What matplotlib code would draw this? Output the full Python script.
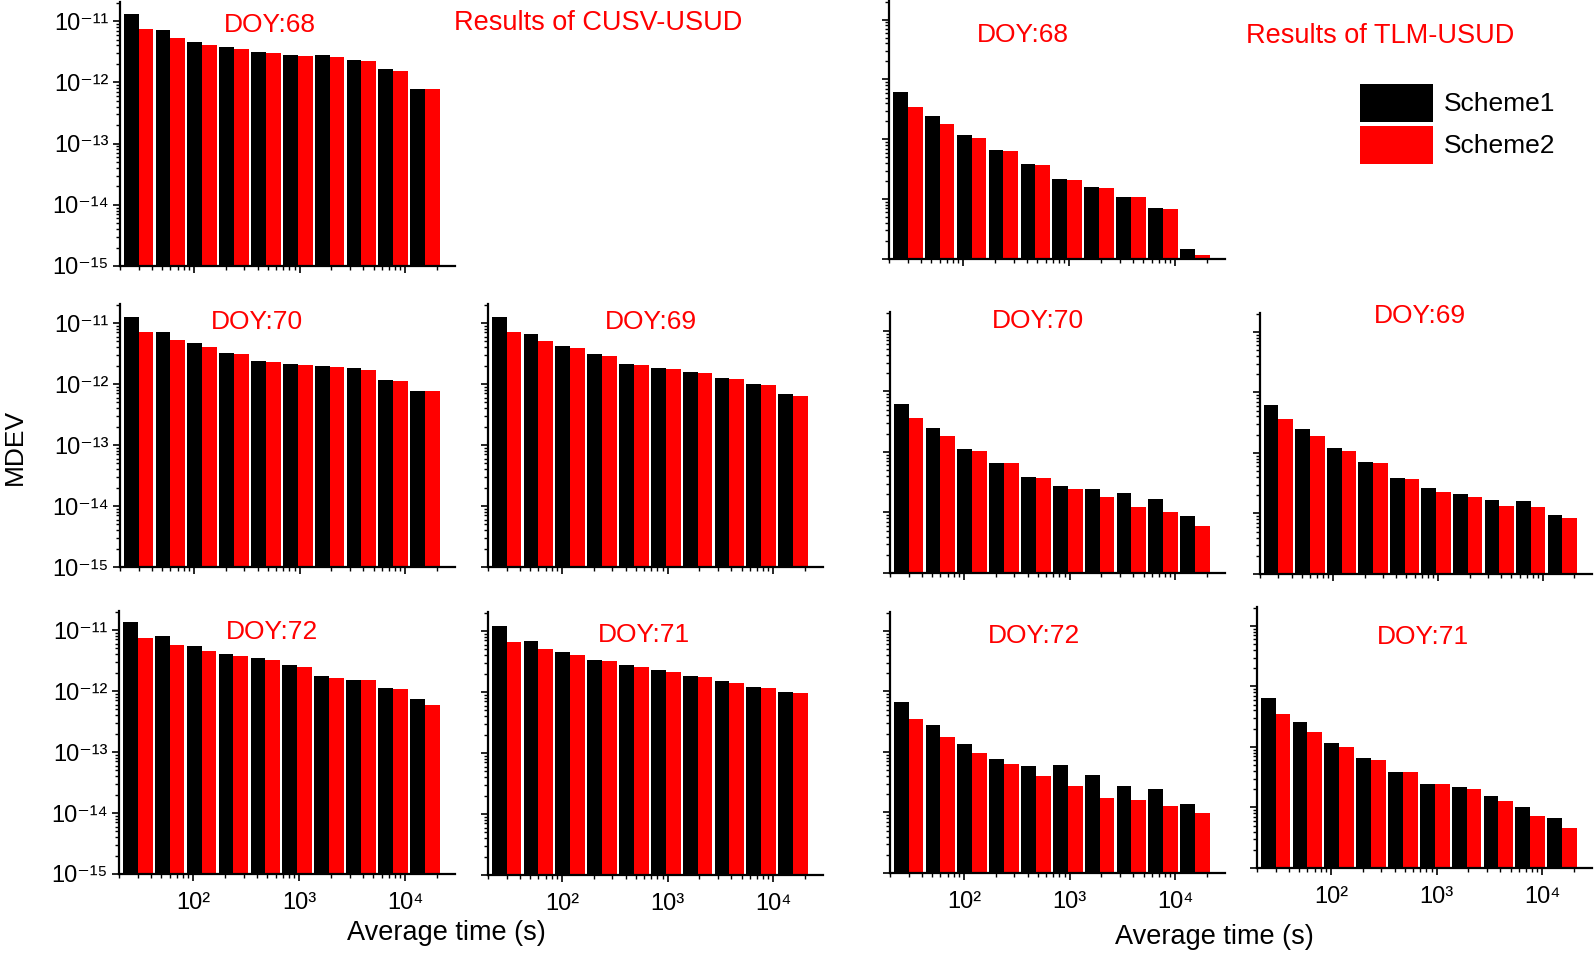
import numpy as np
import matplotlib
matplotlib.use('Agg')
import matplotlib.pyplot as plt
from matplotlib.patches import Rectangle
from matplotlib.ticker import LogLocator, NullFormatter, FuncFormatter

plt.rcParams['font.family'] = ['Liberation Sans', 'DejaVu Sans']
plt.rcParams['xtick.labelsize'] = 17
plt.rcParams['ytick.labelsize'] = 17

W, H = 1594, 957

# average time (s)
taus = [30, 60, 120, 240, 480, 960, 1920, 3840, 7680, 15360]

# MDEV, CUSV-USUD
cusv_68_s1 = [1.29e-11, 7.1e-12, 4.58e-12, 3.75e-12, 3.14e-12, 2.84e-12, 2.77e-12, 2.35e-12, 1.68e-12, 7.8e-13]
cusv_68_s2 = [7.49e-12, 5.33e-12, 4.09e-12, 3.52e-12, 3.03e-12, 2.74e-12, 2.60e-12, 2.24e-12, 1.55e-12, 7.7e-13]
cusv_70_s1 = [1.24e-11, 7.1e-12, 4.64e-12, 3.26e-12, 2.41e-12, 2.10e-12, 2.0e-12, 1.81e-12, 1.16e-12, 7.7e-13]
cusv_70_s2 = [7.1e-12, 5.33e-12, 4.09e-12, 3.06e-12, 2.32e-12, 2.05e-12, 1.92e-12, 1.72e-12, 1.13e-12, 7.7e-13]
cusv_69_s1 = [1.24e-11, 6.6e-12, 4.2e-12, 3.06e-12, 2.15e-12, 1.83e-12, 1.59e-12, 1.25e-12, 1.01e-12, 6.85e-13]
cusv_69_s2 = [7.1e-12, 5.07e-12, 3.85e-12, 2.88e-12, 2.07e-12, 1.74e-12, 1.51e-12, 1.21e-12, 9.75e-13, 6.44e-13]
cusv_72_s1 = [1.37e-11, 7.9e-12, 5.4e-12, 4.1e-12, 3.53e-12, 2.71e-12, 1.75e-12, 1.52e-12, 1.14e-12, 7.35e-13]
cusv_72_s2 = [7.4e-12, 5.6e-12, 4.54e-12, 3.76e-12, 3.27e-12, 2.48e-12, 1.64e-12, 1.49e-12, 1.08e-12, 5.94e-13]
cusv_71_s1 = [1.21e-11, 6.95e-12, 4.54e-12, 3.40e-12, 2.75e-12, 2.28e-12, 1.84e-12, 1.51e-12, 1.22e-12, 9.85e-13]
cusv_71_s2 = [6.6e-12, 5.02e-12, 4.01e-12, 3.24e-12, 2.58e-12, 2.11e-12, 1.75e-12, 1.43e-12, 1.17e-12, 9.6e-13]

# MDEV, TLM-USUD
tlm_68_s1 = [6.17e-13, 2.44e-13, 1.16e-13, 6.6e-14, 3.85e-14, 2.2e-14, 1.62e-14, 1.08e-14, 7.1e-15, 1.47e-15]
tlm_68_s2 = [3.48e-13, 1.77e-13, 1.04e-13, 6.4e-14, 3.76e-14, 2.09e-14, 1.52e-14, 1.07e-14, 6.9e-15, 1.18e-15]
tlm_70_s1 = [6.3e-13, 2.49e-13, 1.11e-13, 6.67e-14, 3.91e-14, 2.71e-14, 2.41e-14, 2.13e-14, 1.69e-14, 8.9e-15]
tlm_70_s2 = [3.6e-13, 1.82e-13, 1.05e-13, 6.5e-14, 3.77e-14, 2.48e-14, 1.8e-14, 1.23e-14, 1.02e-14, 5.98e-15]
tlm_69_s1 = [6.26e-13, 2.52e-13, 1.19e-13, 7.0e-14, 3.92e-14, 2.68e-14, 2.06e-14, 1.68e-14, 1.58e-14, 9.5e-15]
tlm_69_s2 = [3.63e-13, 1.88e-13, 1.06e-13, 6.76e-14, 3.68e-14, 2.25e-14, 1.84e-14, 1.34e-14, 1.3e-14, 8.4e-15]
tlm_72_s1 = [6.7e-13, 2.79e-13, 1.37e-13, 7.76e-14, 5.87e-14, 6.02e-14, 4.17e-14, 2.71e-14, 2.48e-14, 1.36e-14]
tlm_72_s2 = [3.51e-13, 1.77e-13, 9.6e-14, 6.34e-14, 4.06e-14, 2.71e-14, 1.76e-14, 1.61e-14, 1.28e-14, 9.9e-15]
tlm_71_s1 = [6.54e-13, 2.56e-13, 1.16e-13, 6.5e-14, 3.86e-14, 2.45e-14, 2.15e-14, 1.55e-14, 1.02e-14, 6.7e-15]
tlm_71_s2 = [3.47e-13, 1.75e-13, 1.0e-13, 6.18e-14, 3.81e-14, 2.41e-14, 2.05e-14, 1.26e-14, 7.2e-15, 4.6e-15]

scheme_names = ['Scheme1', 'Scheme2']
scheme_colors = ['black', 'red']

BW = 0.14  # bar width in decades
FS = 19
BASE = 1e-16
SUP = str.maketrans('-0123456789', '\u207b\u2070\u00b9\u00b2\u00b3\u2074\u2075\u2076\u2077\u2078\u2079')


def pow10(v, pos):
    e = int(round(np.log10(v)))
    return '10' + str(e).translate(SUP)


def rect(x0, y0, x1, y1):
    return [x0 / W, 1 - y1 / H, (x1 - x0) / W, (y1 - y0) / H]


def draw_panel(fig, box, s1, s2, title, title_xy, ylabels, xlabels):
    ax = fig.add_axes(rect(*box))
    t = np.array(taus, dtype=float)
    left = t * 10 ** -BW
    right = t * 10 ** BW
    ax.bar(left, np.array(s1) - BASE, width=t - left, bottom=BASE, align='edge',
           color=scheme_colors[0], linewidth=0)
    ax.bar(t, np.array(s2) - BASE, width=right - t, bottom=BASE, align='edge',
           color=scheme_colors[1], linewidth=0)
    ax.set_xscale('log')
    ax.set_yscale('log')
    ax.set_xlim(20, 29500)
    ax.set_ylim(1e-15, 2.05e-11)
    ax.yaxis.set_major_locator(LogLocator(base=10, numticks=10))
    ax.yaxis.set_minor_locator(LogLocator(base=10, subs=np.arange(2, 10), numticks=20))
    ax.yaxis.set_major_formatter(FuncFormatter(pow10))
    ax.xaxis.set_major_formatter(FuncFormatter(pow10))
    ax.yaxis.set_minor_formatter(NullFormatter())
    ax.xaxis.set_minor_formatter(NullFormatter())
    for s in ['top', 'right']:
        ax.spines[s].set_visible(False)
    for s in ['left', 'bottom']:
        ax.spines[s].set_linewidth(1.6)
    ax.tick_params(which='major', length=5, width=1.2, labelsize=17)
    ax.tick_params(which='minor', length=2.8, width=1.0)
    ax.tick_params(axis='y', which='major', pad=3)
    ax.tick_params(axis='x', which='major', pad=8)
    ax.tick_params(labelleft=ylabels, labelbottom=xlabels)
    fig.text(title_xy[0] / W, 1 - title_xy[1] / H, title, color='red',
             fontsize=FS, ha='center', va='center')
    return ax


fig = plt.figure(figsize=(W / 100, H / 100), dpi=100)

draw_panel(fig, (120, 2, 455, 266), cusv_68_s1, cusv_68_s2, 'DOY:68', (270, 25), True, False)
draw_panel(fig, (120, 304, 455, 567), cusv_70_s1, cusv_70_s2, 'DOY:70', (257, 322), True, False)
draw_panel(fig, (488, 304, 823, 567), cusv_69_s1, cusv_69_s2, 'DOY:69', (651, 322), False, False)
draw_panel(fig, (119, 611, 455, 874), cusv_72_s1, cusv_72_s2, 'DOY:72', (272, 632), True, True)
draw_panel(fig, (488, 612, 823, 875), cusv_71_s1, cusv_71_s2, 'DOY:71', (644, 635), False, True)

draw_panel(fig, (889, 1, 1225, 259), tlm_68_s1, tlm_68_s2, 'DOY:68', (1023, 35), False, False)
draw_panel(fig, (890, 312, 1225, 573), tlm_70_s1, tlm_70_s2, 'DOY:70', (1038, 321), False, False)
draw_panel(fig, (1260, 313, 1592, 574), tlm_69_s1, tlm_69_s2, 'DOY:69', (1420, 316), False, False)
draw_panel(fig, (890, 612, 1225, 873), tlm_72_s1, tlm_72_s2, 'DOY:72', (1034, 636), False, True)
draw_panel(fig, (1257, 607, 1592, 868), tlm_71_s1, tlm_71_s2, 'DOY:71', (1423, 637), False, True)

fig.text(598 / W, 1 - 23 / H, 'Results of CUSV-USUD', color='red', fontsize=FS + 0.5, ha='center', va='center')
fig.text(1380 / W, 1 - 36 / H, 'Results of TLM-USUD', color='red', fontsize=FS + 0.5, ha='center', va='center')

fig.text(15 / W, 1 - 447 / H, 'MDEV', fontsize=FS, rotation=90, ha='center', va='center')
fig.text(446 / W, 1 - 933 / H, 'Average time (s)', fontsize=FS + 0.5, ha='center', va='center')
fig.text(1214 / W, 1 - 937 / H, 'Average time (s)', fontsize=FS + 0.5, ha='center', va='center')

# legend boxes
for i, (name, col) in enumerate(zip(scheme_names, scheme_colors)):
    y0 = 84 + i * 42
    fig.patches.append(Rectangle((1360 / W, 1 - (y0 + 38) / H), 73 / W, 38 / H,
                                 transform=fig.transFigure, facecolor=col, edgecolor='none'))
    fig.text(1444 / W, 1 - (y0 + 20) / H, name, fontsize=FS, ha='left', va='center')

fig.savefig('out.png', dpi=100)
